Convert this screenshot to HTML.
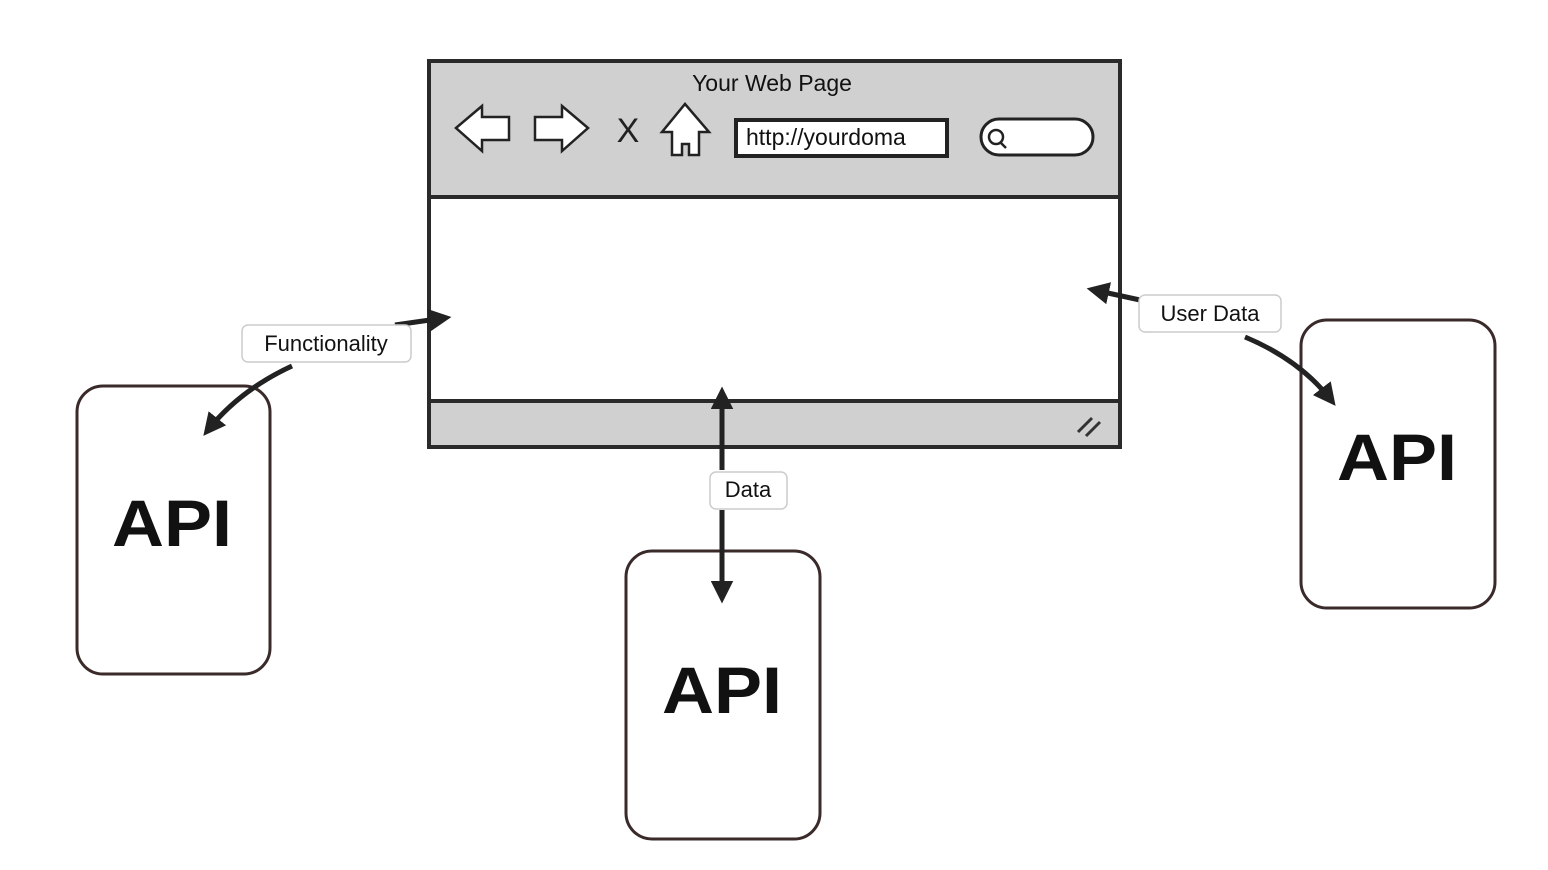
<!DOCTYPE html>
<html><head><style>
html,body{margin:0;padding:0;background:#fff;width:1548px;height:870px;overflow:hidden}
svg{display:block}
text{font-family:"Liberation Sans",sans-serif}
</style></head><body>
<svg width="1548" height="870" viewBox="0 0 1548 870">
<defs>
<marker id="ah" markerWidth="4.5" markerHeight="4.5" refX="3" refY="2.25" orient="auto" markerUnits="strokeWidth">
<path d="M0,0 L4.5,2.25 L0,4.5 Z" fill="#222"/>
</marker>
</defs>
<rect x="429" y="61" width="691" height="386" fill="#fff" stroke="#2a2a2a" stroke-width="4"/>
<rect x="429" y="61" width="691" height="136" fill="#d0d0d0" stroke="#2a2a2a" stroke-width="4"/>
<rect x="429" y="401" width="691" height="46" fill="#d0d0d0" stroke="#2a2a2a" stroke-width="4"/>
<text x="772" y="91" font-size="23" text-anchor="middle" fill="#111">Your Web Page</text>
<path d="M456,128 L482,106 L482,117 L509,117 L509,140 L482,140 L482,151 Z" fill="#fff" stroke="#222" stroke-width="2.5"/>
<path d="M588,128 L562,106 L562,117 L535,117 L535,140 L562,140 L562,151 Z" fill="#fff" stroke="#222" stroke-width="2.5"/>
<text x="628" y="142" font-size="34" text-anchor="middle" fill="#222">X</text>
<path d="M685,104 L709,132 L699,132 L699,155 L689,155 L689,144 L682,144 L682,155 L672,155 L672,132 L662,132 Z" fill="#fff" stroke="#222" stroke-width="2.5"/>
<rect x="736" y="120" width="211" height="36" fill="#fff" stroke="#222" stroke-width="4"/>
<text x="746" y="145" font-size="23" fill="#111">http://yourdoma</text>
<rect x="981" y="119" width="112" height="36" rx="18" fill="#fff" stroke="#222" stroke-width="3"/>
<circle cx="996" cy="137" r="7" fill="none" stroke="#222" stroke-width="2.5"/>
<line x1="1000" y1="142" x2="1006" y2="148" stroke="#222" stroke-width="2.5"/>
<path d="M1078,432 L1092,418 M1086,436 L1100,422" stroke="#333" stroke-width="3"/>
<rect x="77" y="386" width="193" height="288" rx="26" fill="#fff" stroke="#3a2a2a" stroke-width="3"/>
<text x="172" y="546" font-size="66" font-weight="bold" text-anchor="middle" fill="#111" textLength="120" lengthAdjust="spacingAndGlyphs">API</text>
<rect x="626" y="551" width="194" height="288" rx="26" fill="#fff" stroke="#3a2a2a" stroke-width="3"/>
<text x="722" y="713" font-size="66" font-weight="bold" text-anchor="middle" fill="#111" textLength="120" lengthAdjust="spacingAndGlyphs">API</text>
<rect x="1301" y="320" width="194" height="288" rx="26" fill="#fff" stroke="#3a2a2a" stroke-width="3"/>
<text x="1397" y="480" font-size="66" font-weight="bold" text-anchor="middle" fill="#111" textLength="120" lengthAdjust="spacingAndGlyphs">API</text>
<path d="M395,325 L444,318" stroke="#222" stroke-width="5" fill="none" marker-end="url(#ah)"/>
<path d="M292,366 Q240,390 208,430" stroke="#222" stroke-width="5" fill="none" marker-end="url(#ah)"/>
<path d="M722,470 L722,394" stroke="#222" stroke-width="5" fill="none" marker-end="url(#ah)"/>
<path d="M722,510 L722,596" stroke="#222" stroke-width="5" fill="none" marker-end="url(#ah)"/>
<path d="M1140,300 L1094,290" stroke="#222" stroke-width="5" fill="none" marker-end="url(#ah)"/>
<path d="M1245,337 Q1300,360 1331,400" stroke="#222" stroke-width="5" fill="none" marker-end="url(#ah)"/>
<rect x="242" y="325" width="169" height="37" rx="6" fill="#fff" stroke="#ccc" stroke-width="1.5"/>
<text x="326" y="351" font-size="22" text-anchor="middle" fill="#111">Functionality</text>
<rect x="710" y="472" width="77" height="37" rx="6" fill="#fff" stroke="#ccc" stroke-width="1.5"/>
<text x="748" y="497" font-size="22" text-anchor="middle" fill="#111">Data</text>
<rect x="1139" y="295" width="142" height="37" rx="6" fill="#fff" stroke="#ccc" stroke-width="1.5"/>
<text x="1210" y="321" font-size="22" text-anchor="middle" fill="#111">User Data</text>
</svg>
</body></html>
